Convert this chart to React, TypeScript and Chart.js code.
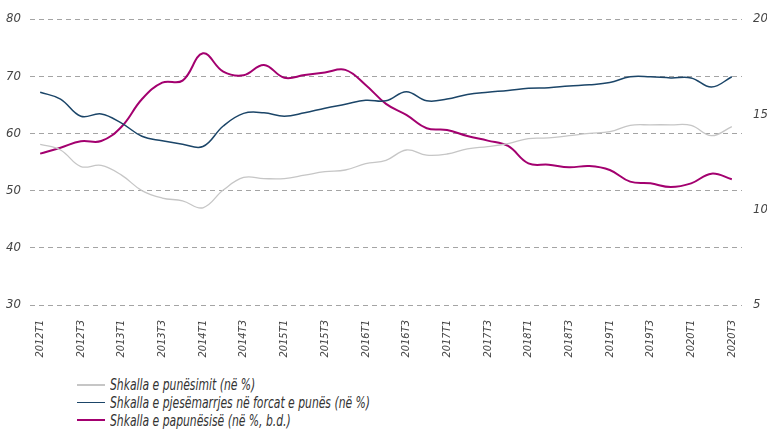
import React, { useEffect, useRef } from "react";
import { Chart, registerables } from "chart.js";

Chart.register(...registerables);

const quarters = [
  "2012T1", "2012T2", "2012T3", "2012T4",
  "2013T1", "2013T2", "2013T3", "2013T4",
  "2014T1", "2014T2", "2014T3", "2014T4",
  "2015T1", "2015T2", "2015T3", "2015T4",
  "2016T1", "2016T2", "2016T3", "2016T4",
  "2017T1", "2017T2", "2017T3", "2017T4",
  "2018T1", "2018T2", "2018T3", "2018T4",
  "2019T1", "2019T2", "2019T3", "2019T4",
  "2020T1", "2020T2", "2020T3",
];

const employmentRate = [
  58.1, 57.1, 54.2, 54.4, 52.7, 50.0, 48.7, 48.2, 47.0, 50.1, 52.3, 52.1,
  52.1, 52.7, 53.3, 53.6, 54.7, 55.3, 57.1, 56.2, 56.4, 57.3, 57.7, 58.2,
  59.1, 59.2, 59.6, 60.0, 60.3, 61.4, 61.5, 61.5, 61.4, 59.6, 61.2,
];

const participationRate = [
  67.2, 66.0, 63.0, 63.4, 61.8, 59.5, 58.7, 58.1, 57.7, 61.3, 63.5, 63.6,
  63.0, 63.6, 64.4, 65.1, 65.8, 65.7, 67.3, 65.7, 66.0, 66.8, 67.2, 67.5,
  67.9, 68.0, 68.3, 68.5, 68.9, 69.9, 69.9, 69.7, 69.7, 68.1, 69.9,
];

const unemploymentRate = [
  12.94, 13.25, 13.59, 13.6, 14.35, 15.79, 16.66, 16.77, 18.2, 17.24, 17.05,
  17.59, 16.92, 17.06, 17.2, 17.33, 16.54, 15.55, 14.97, 14.27, 14.18, 13.86,
  13.62, 13.34, 12.43, 12.36, 12.22, 12.29, 12.08, 11.47, 11.38, 11.19, 11.38,
  11.89, 11.6,
];

const seriesNames = [
  "Shkalla e punësimit (në %)",
  "Shkalla e pjesëmarrjes në forcat e punës (në %)",
  "Shkalla e papunësisë (në %, b.d.)",
];

const COLORS = ["#c6c6c6", "#1b4568", "#a3006f"];
const WIDTHS = [1.3, 1.5, 2];
const FONT = '"Liberation Sans Narrow", "DejaVu Sans Condensed", "Roboto Condensed", sans-serif';

export default function App() {
  const canvasRef = useRef<HTMLCanvasElement | null>(null);

  useEffect(() => {
    const ctx = canvasRef.current;
    if (!ctx) return;
    const chart = new Chart(ctx, {
      type: "line",
      data: {
        labels: quarters,
        datasets: [
          {
            label: seriesNames[0],
            data: employmentRate,
            borderColor: COLORS[0],
            borderWidth: WIDTHS[0],
            yAxisID: "y",
          },
          {
            label: seriesNames[1],
            data: participationRate,
            borderColor: COLORS[1],
            borderWidth: WIDTHS[1],
            yAxisID: "y",
          },
          {
            label: seriesNames[2],
            data: unemploymentRate,
            borderColor: COLORS[2],
            borderWidth: WIDTHS[2],
            yAxisID: "y1",
          },
        ],
      },
      options: {
        animation: false,
        responsive: false,
        maintainAspectRatio: false,
        elements: {
          point: { radius: 0 },
          line: { tension: 0.4, fill: false },
        },
        layout: { padding: { top: 19, left: 0, right: 0, bottom: 0 } },
        plugins: {
          legend: { display: false },
          tooltip: { enabled: false },
        },
        scales: {
          x: {
            offset: true,
            grid: { display: false, drawTicks: false },
            border: { display: false },
            ticks: {
              autoSkip: false,
              maxRotation: 90,
              minRotation: 90,
              padding: 15,
              color: "#444",
              font: { family: FONT, size: 11, style: "italic" },
              callback: (_v: any, i: number) => (i % 2 === 0 ? quarters[i] : ""),
            },
            afterFit: (s: any) => {
              s.height = 60;
            },
          },
          y: {
            position: "left",
            min: 30,
            max: 80,
            ticks: {
              stepSize: 10,
              padding: 9,
              color: "#444",
              font: { family: FONT, size: 13, style: "italic" },
            },
            grid: {
              color: "#a4a4a4",
              lineWidth: 1,
              drawTicks: false,
            },
            border: { display: false, dash: [5, 4] },
            afterFit: (s: any) => {
              s.width = 30;
            },
          },
          y1: {
            position: "right",
            min: 5,
            max: 20,
            ticks: {
              stepSize: 5,
              padding: 11,
              color: "#444",
              font: { family: FONT, size: 13, style: "italic" },
            },
            grid: { display: false, drawTicks: false },
            border: { display: false },
            afterFit: (s: any) => {
              s.width = 25;
            },
          },
        },
      },
    });
    return () => chart.destroy();
  }, []);

  return (
    <div
      style={{
        position: "absolute",
        left: 0,
        top: 0,
        width: 767,
        height: 441,
        background: "#fff",
      }}
    >
      <canvas ref={canvasRef} width={767} height={365} style={{ display: "block" }} />
      <div
        style={{
          position: "absolute",
          left: 77,
          top: 376,
          fontFamily: FONT,
          fontStyle: "italic",
          fontSize: 16,
          color: "#333",
        }}
      >
        {seriesNames.map((name, i) => (
          <div
            key={name}
            style={{ display: "flex", alignItems: "center", height: 17.7, whiteSpace: "nowrap" }}
          >
            <span
              style={{
                display: "inline-block",
                width: 28,
                height: i === 2 ? 2 : 1.5,
                background: COLORS[i],
                marginRight: 5,
                flex: "none",
              }}
            />
            <span
              style={{
                display: "inline-block",
                transform: "scaleX(0.75)",
                transformOrigin: "left center",
              }}
            >
              {name}
            </span>
          </div>
        ))}
      </div>
    </div>
  );
}
